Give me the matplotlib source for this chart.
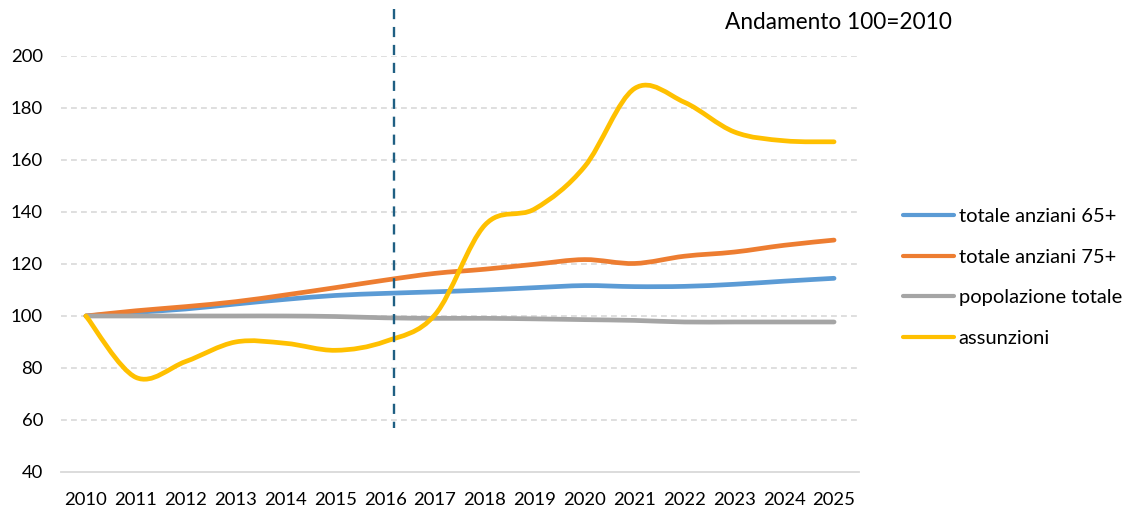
import matplotlib
matplotlib.use("Agg")
import matplotlib.pyplot as plt
from matplotlib.path import Path
from matplotlib.patches import PathPatch
from matplotlib.lines import Line2D

plt.rcParams['font.family'] = ['Lato', 'DejaVu Sans']

# Data
anni = ["2010", "2011", "2012", "2013", "2014", "2015", "2016", "2017",
        "2018", "2019", "2020", "2021", "2022", "2023", "2024", "2025"]

anziani_65 = [100, 101.4, 102.7, 104.6, 106.4, 107.9, 108.7, 109.3,
              110.0, 110.9, 111.7, 111.3, 111.4, 112.2, 113.4, 114.5]
anziani_75 = [100, 102.0, 103.6, 105.5, 108.1, 110.9, 113.8, 116.4,
              118.0, 119.9, 121.7, 120.2, 123.0, 124.6, 127.2, 129.2]
popolazione = [100, 100, 100, 100, 100, 99.8, 99.3, 99.1,
               99.1, 98.9, 98.6, 98.3, 97.7, 97.7, 97.7, 97.7]
assunzioni = [100, 76.4, 82.5, 90.0, 89.5, 86.8, 90.2, 100.5,
              135.0, 141.2, 157.5, 187.5, 182.2, 170.8, 167.4, 167.0]

serie = [
    ("totale anziani 65+", anziani_65, "#5B9BD5"),
    ("totale anziani 75+", anziani_75, "#ED7D31"),
    ("popolazione totale", popolazione, "#A5A5A5"),
    ("assunzioni", assunzioni, "#FFC000"),
]

# dashed marker line just after 2016 (category index)
x_linea = 6.18


def curva_liscia(ys):
    # excel-like smoothed line: cubic bezier segments through every point
    xs = list(range(len(ys)))
    n = len(ys)
    verts = [(xs[0], ys[0])]
    codes = [Path.MOVETO]
    for i in range(n - 1):
        a = max(i - 1, 0)
        b = min(i + 2, n - 1)
        c1 = (xs[i] + (xs[i + 1] - xs[a]) / 6, ys[i] + (ys[i + 1] - ys[a]) / 6)
        c2 = (xs[i + 1] - (xs[b] - xs[i]) / 6, ys[i + 1] - (ys[b] - ys[i]) / 6)
        verts += [c1, c2, (xs[i + 1], ys[i + 1])]
        codes += [Path.CURVE4] * 3
    return Path(verts, codes)


fig = plt.figure(figsize=(11.24, 5.08), dpi=100)
ax = fig.add_axes([61 / 1124, 36 / 508, 798 / 1124, 416 / 508])

ax.set_xlim(-0.5, len(anni) - 0.5)
ax.set_ylim(40, 200)
ax.set_yticks(range(40, 201, 20))
ax.set_xticks(range(len(anni)))
ax.set_xticklabels(anni)

for v in range(60, 201, 20):
    ax.axhline(v, color="#D9D9D9", lw=1.2, ls=(0, (3.5, 2.5)), zorder=0)

for s in ["top", "right", "left"]:
    ax.spines[s].set_visible(False)
ax.spines["bottom"].set_color("#D9D9D9")
ax.spines["bottom"].set_linewidth(1.3)
ax.tick_params(length=0, labelsize=13.3, colors="black")
ax.tick_params(axis="y", pad=13)
ax.tick_params(axis="x", pad=14.5)

handles = []
for i, (nome, vals, col) in enumerate(serie):
    patch = PathPatch(curva_liscia(vals), fill=False, edgecolor=col, lw=3.4,
                      capstyle="round", joinstyle="round", zorder=2 + i)
    ax.add_patch(patch)
    handles.append(Line2D([], [], color=col, lw=3.0, solid_capstyle="round"))

# drawn top-down so the first dash sits at the top edge
ax.plot([x_linea, x_linea], [218.2, 57.0], color="#1F5F83", lw=1.7,
        ls=(0, (4.3, 3.3)), clip_on=False, zorder=10)

fig.text(725 / 1124, 1 - 29 / 508, "Andamento 100=2010", fontsize=16.3,
         va="baseline", ha="left")

fig.legend(handles, [s[0] for s in serie], loc="center left",
           bbox_to_anchor=(885 / 1124, 1 - 277.5 / 508), frameon=False,
           fontsize=14.5, handlelength=2.55, handletextpad=0.2,
           labelspacing=1.16)

fig.savefig("out.png", dpi=100)
